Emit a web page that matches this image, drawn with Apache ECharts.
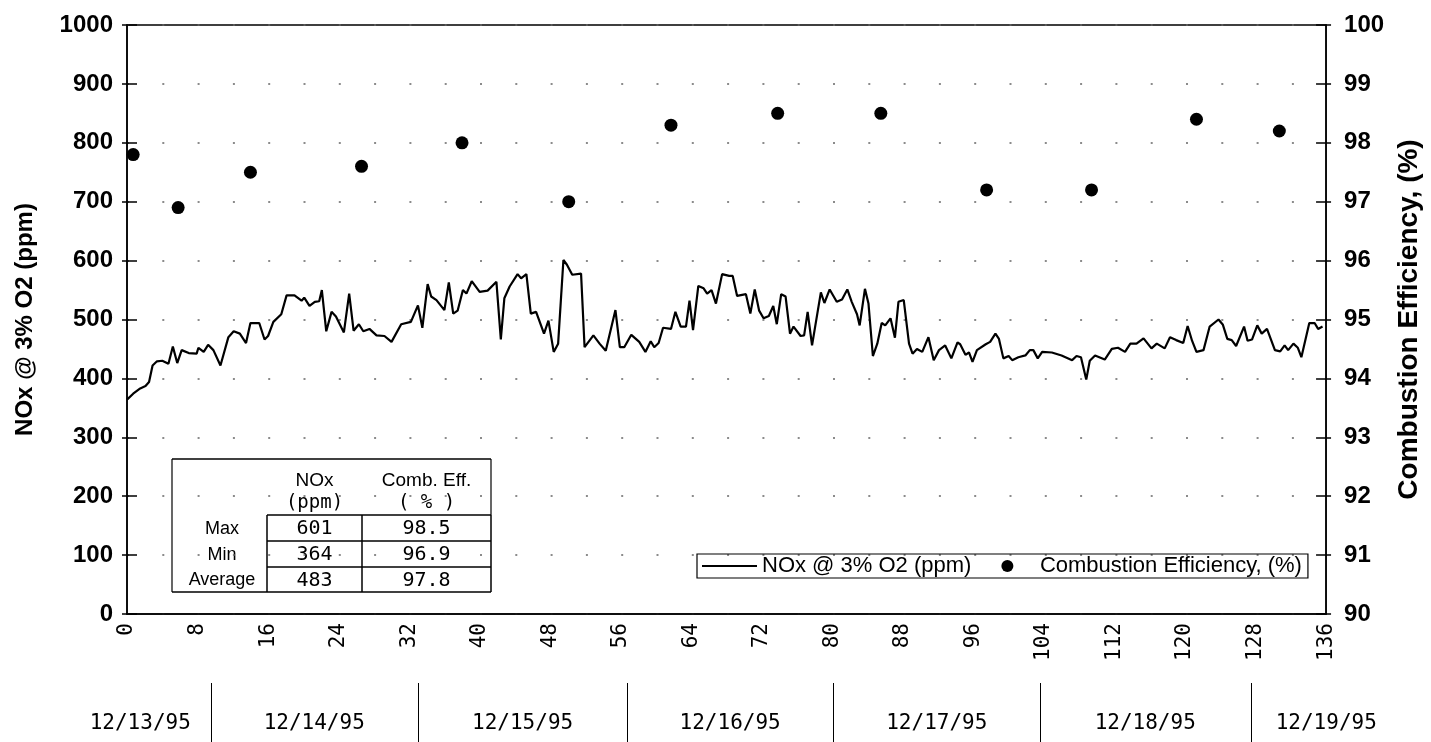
<!DOCTYPE html>
<html>
<head>
<meta charset="utf-8">
<script src="https://cdn.jsdelivr.net/npm/echarts@6.0.0/dist/echarts.min.js"></script>
<style>
  html, body { margin: 0; padding: 0; background: #fff; }
  #chart { width: 1431px; height: 742px; }
</style>
</head>
<body>
<div id="chart"></div>
<script>
// ---- Data ----
const hours = [0.0,0.7,1.5,2.1,2.5,2.9,3.4,4.0,4.7,5.2,5.7,6.2,7.0,7.9,8.1,8.7,9.2,9.8,10.6,11.5,12.1,12.8,13.5,14.0,15.0,15.6,16.0,16.6,17.5,18.1,19.0,19.8,20.1,20.7,21.3,21.8,22.1,22.6,23.2,23.7,24.6,25.2,25.7,26.3,26.8,27.5,28.3,29.2,30.0,31.1,32.2,33.0,33.5,34.1,34.5,35.1,36.0,36.5,37.0,37.5,38.1,38.5,39.1,40.0,40.9,41.9,42.4,42.8,43.4,44.3,44.7,45.3,45.8,46.4,47.3,47.8,48.4,48.9,49.5,49.9,50.5,51.5,51.9,52.9,53.6,54.3,55.4,55.9,56.4,57.2,58.1,58.8,59.4,59.8,60.3,60.8,61.7,62.2,62.8,63.4,63.8,64.2,64.8,65.4,65.8,66.3,66.8,67.5,68.3,68.7,69.2,70.2,70.7,71.2,71.7,72.2,72.8,73.3,73.7,74.2,74.7,75.2,75.6,76.4,76.8,77.2,77.7,78.7,79.1,79.7,80.5,81.1,81.7,82.2,82.8,83.1,83.7,84.1,84.6,85.1,85.6,86.0,86.6,87.1,87.5,88.1,88.7,89.1,89.6,90.2,90.9,91.5,92.1,92.8,93.5,94.2,94.5,95.1,95.5,95.9,96.4,97.4,97.9,98.5,98.9,99.4,100.0,100.4,101.1,101.9,102.4,102.8,103.3,103.8,104.9,106.0,107.2,107.7,108.2,108.8,109.2,109.8,110.9,111.7,112.4,113.2,113.8,114.5,115.3,116.2,116.8,117.7,118.3,119.0,119.8,120.3,120.8,121.3,122.1,122.8,123.8,124.3,124.8,125.3,125.8,126.7,127.1,127.6,128.2,128.7,129.3,130.2,130.8,131.3,131.7,132.3,132.8,133.2,134.1,134.7,135.1,135.6];
const nox = [364,374,383,387,394,422,429,430,425,454,426,448,443,442,452,445,457,448,422,470,480,476,460,494,494,466,472,496,509,541,541,532,537,523,530,531,550,480,513,505,478,544,481,492,480,484,473,472,462,492,496,524,486,560,539,533,516,563,510,515,550,544,565,547,549,564,466,536,556,577,570,577,510,513,476,498,445,459,601,593,576,578,453,473,459,447,516,453,453,474,462,445,463,453,460,486,484,513,488,488,532,482,557,553,544,550,527,577,574,574,540,543,510,551,515,502,506,523,492,543,539,476,488,472,473,513,456,546,528,551,530,534,551,530,509,490,552,527,438,459,494,490,502,469,530,533,459,442,450,445,470,431,448,456,434,461,458,440,444,428,448,458,462,476,467,434,438,431,436,439,448,448,434,445,444,439,431,438,436,398,430,439,432,450,452,445,459,459,468,451,459,451,470,465,460,489,464,445,448,488,500,491,467,465,455,488,464,466,490,476,484,448,446,456,448,459,452,436,494,494,484,488];

const effHours  = [0.7, 5.8, 14.0, 26.6, 38.0, 50.1, 61.7, 73.8, 85.5, 97.5, 109.4, 121.3, 130.7];
const effValues = [97.8, 96.9, 97.5, 97.6, 98.0, 97.0, 98.3, 98.5, 98.5, 97.2, 97.2, 98.4, 98.2];

const dateLabels     = ['12/13/95','12/14/95','12/15/95','12/16/95','12/17/95','12/18/95','12/19/95'];
const dateCenters    = [1.5, 21.2, 44.8, 68.3, 91.7, 115.3, 135.8];
const dayBoundaries  = [9.5, 33.0, 56.7, 80.0, 103.4, 127.3];

const seriesNames = ['NOx @ 3% O2 (ppm)', 'Combustion Efficiency, (%)'];
const leftAxisName  = 'NOx @ 3% O2 (ppm)';
const rightAxisName = 'Combustion Efficiency, (%)';

const tableHeader1  = ['NOx', 'Comb. Eff.'];
const tableHeader2  = ['(ppm)', '( % )'];
const tableRowNames = ['Max', 'Min', 'Average'];
const tableNOx      = ['601', '364', '483'];
const tableEff      = ['98.5', '96.9', '97.8'];

// ---- Chart ----
const FONT = '"Liberation Sans", Arial, Helvetica, sans-serif';
const MONO = '"DejaVu Sans Mono", "Liberation Mono", monospace';
const chart = echarts.init(document.getElementById('chart'), null, { renderer: 'canvas' });

// table graphic (annotation box)
function buildTable() {
  const L = 172, T = 459, R = 491, colA = 267, colB = 362;
  const rowY = [515, 541, 567, 592];
  const els = [];
  const ln = (x1, y1, x2, y2, w) => els.push({ type: 'line', shape: { x1, y1, x2, y2 }, style: { stroke: '#000', lineWidth: w || 1.2 }, silent: true });
  const tx = (text, x, y, size, fam) => els.push({ type: 'text', x, y, style: { text, fill: '#000', font: size + 'px ' + (fam || FONT), textAlign: 'center', textVerticalAlign: 'middle' }, silent: true });
  ln(L, T, R, T, 1.5);
  ln(L, T, L, rowY[3], 1.2);
  ln(R, T, R, rowY[0], 1.2);
  ln(L, rowY[3], colA, rowY[3], 1.5);
  rowY.forEach(y => ln(colA, y, R, y, 1.5));
  ln(colA, rowY[0], colA, rowY[3], 1.5);
  ln(colB, rowY[0], colB, rowY[3], 1.5);
  ln(R, rowY[0], R, rowY[3], 1.5);
  const cA = (colA + colB) / 2, cB = (colB + R) / 2;
  tx(tableHeader1[0], cA, 481, 19); tx(tableHeader1[1], cB, 481, 19);
  tx(tableHeader2[0], cA, 503, 19, MONO); tx(tableHeader2[1], cB, 503, 19, MONO);
  tableRowNames.forEach((n, i) => {
    const y = (rowY[i] + rowY[i + 1]) / 2 + 1;
    tx(n, 222, y, 18);
    tx(tableNOx[i], cA, y, 20, MONO);
    tx(tableEff[i], cB, y, 20, MONO);
  });
  return els;
}

const option = {
  backgroundColor: '#fff',
  animation: false,
  textStyle: { fontFamily: FONT, color: '#000' },
  grid: [
    { left: 127, right: 103, top: 25, bottom: 128, show: true, borderColor: '#000', borderWidth: 1.5 },
    { left: 127, right: 103, top: 682, height: 1, show: false }
  ],
  legend: {
    left: 697, top: 554,
    orient: 'horizontal',
    borderColor: '#000', borderWidth: 1.2, borderRadius: 0,
    padding: [1, 6, 1, 4],
    itemWidth: 55, itemHeight: 12, itemGap: 30,
    textStyle: { fontSize: 22, color: '#000', fontFamily: FONT },
    data: [
      { name: seriesNames[0], itemStyle: { opacity: 0 } },
      { name: seriesNames[1], icon: 'circle' }
    ]
  },
  xAxis: [
    {
      type: 'value', gridIndex: 0, min: 0, max: 136, interval: 8, position: 'bottom',
      axisLine: { show: true, onZero: false, lineStyle: { color: '#000', width: 1.5 } },
      axisTick: { show: false },
      splitLine: { show: false },
      axisLabel: { rotate: 90, fontSize: 21, color: '#000', margin: 9, fontFamily: MONO }
    },
    {
      type: 'value', gridIndex: 1, min: 0, max: 136, position: 'bottom',
      axisLine: { show: false },
      axisTick: { show: true, customValues: dayBoundaries, inside: false, length: 60, lineStyle: { color: '#000', width: 1 } },
      splitLine: { show: false },
      axisLabel: {
        customValues: dateCenters, margin: 30, fontSize: 21, color: '#000', fontFamily: MONO,
        formatter: function (v) {
          let best = 0;
          dateCenters.forEach((c, i) => { if (Math.abs(c - v) < Math.abs(dateCenters[best] - v)) best = i; });
          return dateLabels[best];
        }
      }
    }
  ],
  yAxis: [
    {
      type: 'value', gridIndex: 0, position: 'left', min: 0, max: 1000, interval: 100,
      name: leftAxisName, nameLocation: 'middle', nameRotate: 90, nameGap: 90,
      nameTextStyle: { fontSize: 24, fontWeight: 'bold', color: '#000', fontFamily: FONT },
      axisLine: { show: true, lineStyle: { color: '#000', width: 1.5 } },
      axisTick: { show: true, inside: false, length: 5, lineStyle: { color: '#000', width: 1.5 } },
      axisLabel: { fontSize: 24, fontWeight: 'bold', color: '#000', margin: 14, fontFamily: FONT, formatter: v => String(v) },
      splitLine: { show: true, lineStyle: { color: '#666', width: 1.5, type: [2, 33.3] } }
    },
    {
      type: 'value', gridIndex: 0, position: 'right', min: 90, max: 100, interval: 1,
      name: rightAxisName, nameLocation: 'middle', nameRotate: 90, nameGap: 68,
      nameTextStyle: { fontSize: 28, fontWeight: 'bold', color: '#000', fontFamily: FONT },
      axisLine: { show: true, lineStyle: { color: '#000', width: 1.5 } },
      axisTick: { show: true, inside: false, length: 5, lineStyle: { color: '#000', width: 1.5 } },
      axisLabel: { fontSize: 24, fontWeight: 'bold', color: '#000', margin: 18, fontFamily: FONT, formatter: v => String(v) },
      splitLine: { show: false }
    },
    {
      type: 'value', gridIndex: 0, position: 'left', min: 0, max: 1000, interval: 100,
      axisLine: { show: false }, axisLabel: { show: false }, splitLine: { show: false },
      axisTick: { show: true, inside: true, length: 10, lineStyle: { color: '#000', width: 1.5 } }
    },
    {
      type: 'value', gridIndex: 0, position: 'right', min: 90, max: 100, interval: 1,
      axisLine: { show: false }, axisLabel: { show: false }, splitLine: { show: false },
      axisTick: { show: true, inside: true, length: 10, lineStyle: { color: '#000', width: 1.5 } }
    },
    {
      type: 'value', gridIndex: 1, show: false
    }
  ],
  series: [
    {
      name: seriesNames[0], type: 'line', xAxisIndex: 0, yAxisIndex: 0,
      data: hours.map((h, i) => [h, nox[i]]),
      showSymbol: false, symbol: 'none',
      lineStyle: { color: '#000', width: 2.2 },
      itemStyle: { color: '#000' },
      z: 3
    },
    {
      name: seriesNames[1], type: 'scatter', xAxisIndex: 0, yAxisIndex: 1,
      data: effHours.map((h, i) => [h, effValues[i]]),
      symbol: 'circle', symbolSize: 13,
      itemStyle: { color: '#000', opacity: 1 },
      z: 4
    }
  ],
  graphic: buildTable()
};
chart.setOption(option);
</script>
</body>
</html>
